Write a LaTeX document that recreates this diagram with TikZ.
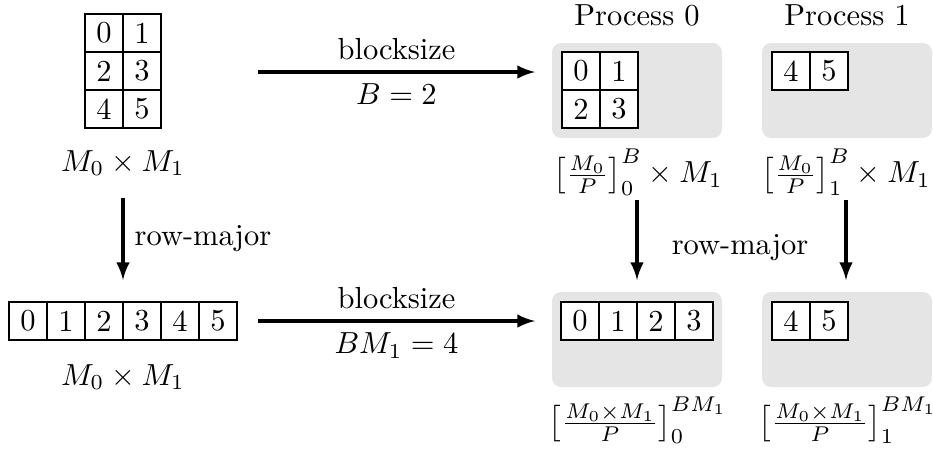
\documentclass[tikz,border=0pt]{standalone}
\usepackage{amsmath}
\usetikzlibrary{arrows}

\begin{document}
\begin{tikzpicture}[x=0.328pt,y=-0.328pt,
  cell/.style={draw,thin,fill=white,minimum size=12.46pt,inner sep=0pt},
  procbox/.style={fill=gray!20,rounded corners=3pt,
    minimum width=55.76pt,minimum height=31.16pt,inner sep=0pt},
  flow/.style={-latex,line width=1pt}]
  \useasboundingbox (0,0) rectangle (933,454);

  % the matrix and its row-major layout
  \foreach \n/\x/\y in {0/104/33,1/142/33,2/104/71,3/142/71,4/104/109,5/142/109}
    \node[cell] (m\n) at (\x,\y) {\n};
  \node (mlabel) at (123,163) {$M_0 \times M_1$};
  \foreach \n in {0,...,5}
    \node[cell] (v\n) at (28+38*\n,321) {\n};
  \node (vlabel) at (123,377) {$M_0 \times M_1$};

  % processes
  \node (title0) at (637,15) {Process 0};
  \node (title1) at (847,15) {Process 1};
  \node[procbox] (box0) at (637,90.5) {};
  \node[procbox] (box1) at (847,90.5) {};
  \node[procbox] (rbox0) at (637,339.5) {};
  \node[procbox] (rbox1) at (847,339.5) {};

  \foreach \n/\x/\y in {0/581/71,1/619/71,2/581/109,3/619/109}
    \node[cell] (a\n) at (\x,\y) {\n};
  \foreach \n/\x in {4/791,5/829}
    \node[cell] (b\n) at (\x,71) {\n};
  \foreach \n in {0,...,3}
    \node[cell] (c\n) at (580+38*\n,321) {\n};
  \foreach \n/\x in {4/791,5/829}
    \node[cell] (d\n) at (\x,321) {\n};

  \node (alabel) at (638,172) {$\left[\frac{M_0}{P}\right]_0^B \times M_1$};
  \node (blabel) at (846,172) {$\left[\frac{M_0}{P}\right]_1^B \times M_1$};
  \node (clabel) at (638,420) {$\left[\frac{M_0\times M_1}{P}\right]_0^{BM_1}$};
  \node (dlabel) at (848,420) {$\left[\frac{M_0\times M_1}{P}\right]_1^{BM_1}$};

  % connectors
  \coordinate (top1) at (258,72);
  \coordinate (top2) at (535,72);
  \coordinate (bot1) at (258,321);
  \coordinate (bot2) at (535,321);
  \coordinate (left1) at (123,198);
  \coordinate (left2) at (123,280);
  \coordinate (r01) at (637,200);
  \coordinate (r02) at (637,280);
  \coordinate (r11) at (846,200);
  \coordinate (r12) at (846,280);

  \draw[flow] (top1) -- node[above] {blocksize} node[below] {$B=2$} (top2);
  \draw[flow] (bot1) -- node[above] {blocksize} node[below] {$BM_1=4$} (bot2);
  \draw[flow] (left1) -- node[right] {row-major} (left2);
  \draw[flow] (r01) -- (r02);
  \draw[flow] (r11) -- (r12);
  \node (rowmajor) at (740,248) {row-major};
\end{tikzpicture}
\end{document}
